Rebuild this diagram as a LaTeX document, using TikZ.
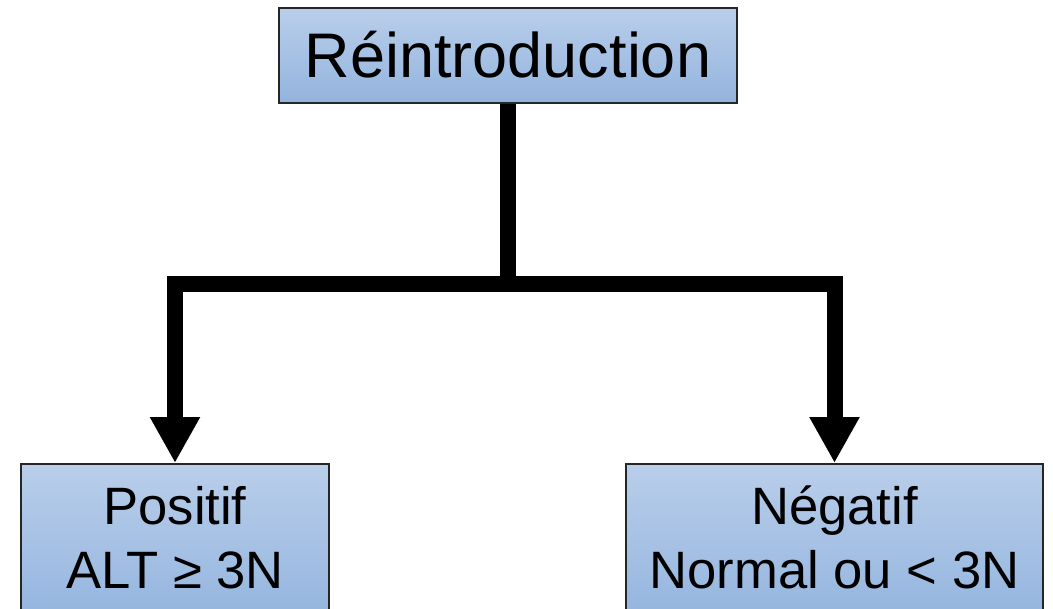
\documentclass[tikz,border=0pt]{standalone}
\usepackage{fontspec}
\setmainfont{Liberation Sans}
\usepackage{xcolor}
\usetikzlibrary{arrows.meta}
\definecolor{boxtop}{RGB}{185,206,234}
\definecolor{boxbottom}{RGB}{147,180,222}

\begin{document}
\begin{tikzpicture}[x=0.5pt,y=-0.5pt]
    \useasboundingbox (0,0) rectangle (1053,609);
    \begin{scope}[every node/.style={rectangle,draw=black!85,line width=0.8pt,top color=boxtop,bottom color=boxbottom,align=center,inner sep=0pt,anchor=north}]
        %top
        \node[minimum width=229pt,minimum height=47.5pt,text height=30pt,text depth=7.5pt,font=\fontsize{31.5}{38}\selectfont] (reintro) at (508,7) {Réintroduction};
    
        %bottom
        \node[minimum width=154pt,minimum height=80.2pt,font=\fontsize{26.3}{32}\selectfont] (positif) at (175,463) {\strut Positif\\\strut ALT ≥ 3N};
        \node[minimum width=208.5pt,minimum height=80.2pt,font=\fontsize{26.3}{32}\selectfont] (negatif) at (834.5,463) {\strut Négatif\\\strut Normal ou < 3N};
    \end{scope}
    
    \coordinate (split) at (508,284);
    
    %arrows
    \begin{scope}[line width=8pt,-{Triangle[width=23.5pt,length=23pt]}]
        \draw[-] (reintro.south) -- (split);
        \draw (split) -| (positif.north);
        \draw (split) -| (negatif.north);
    \end{scope}
\end{tikzpicture}
\end{document}
